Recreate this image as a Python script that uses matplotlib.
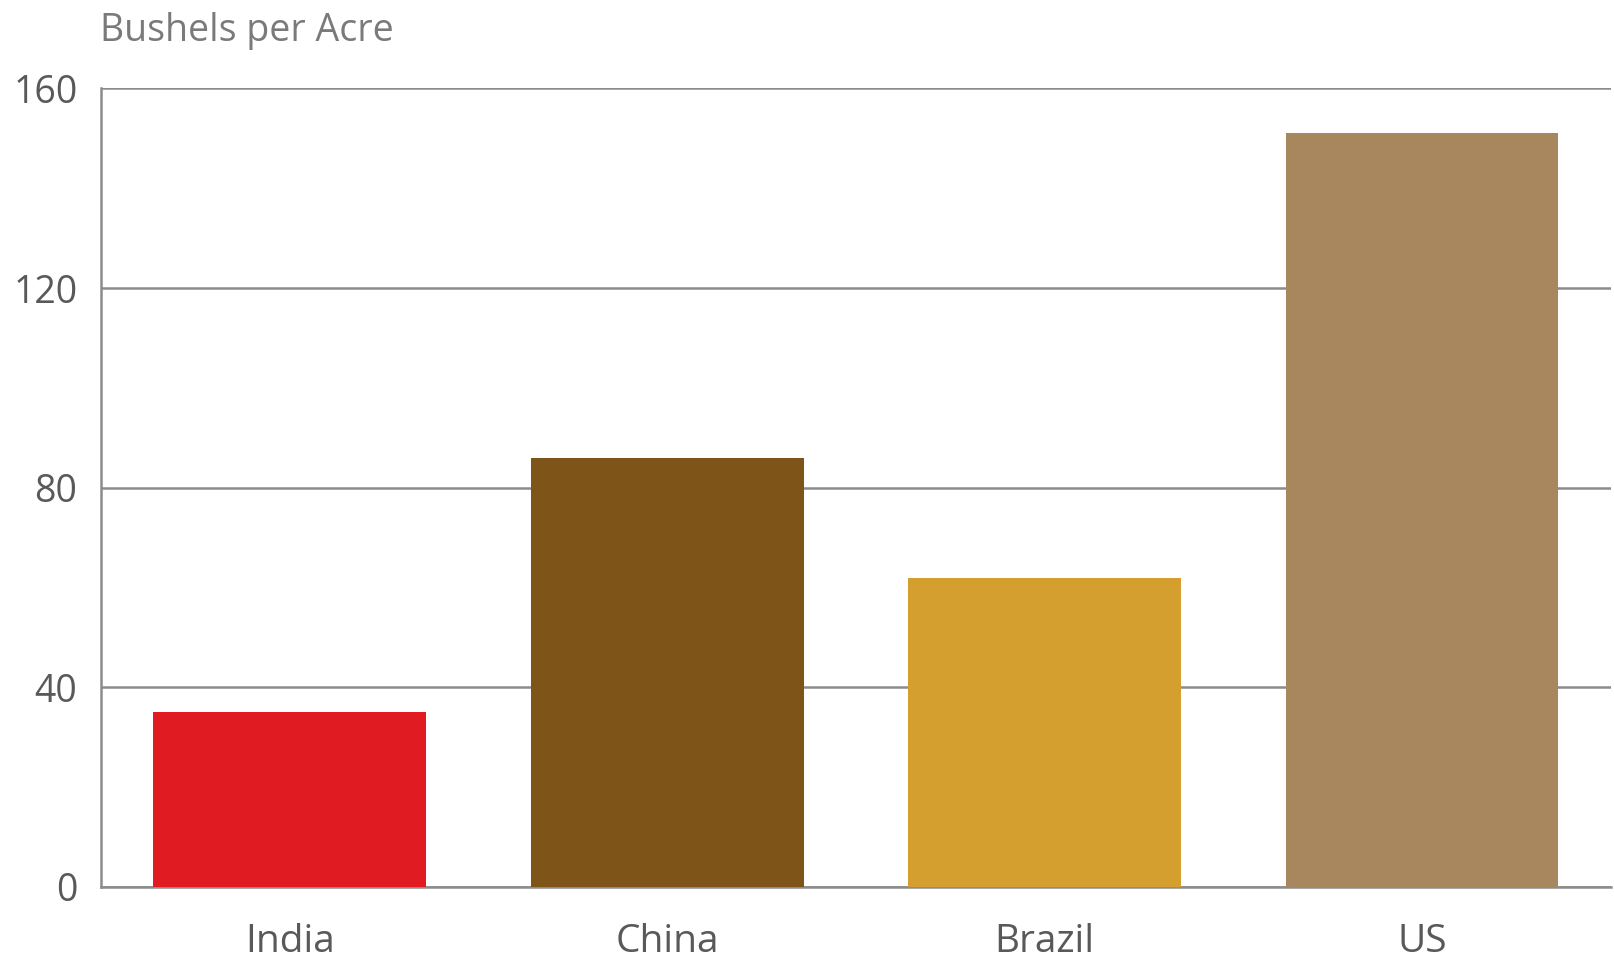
import matplotlib.pyplot as plt
import numpy as np

countries = ["India", "China", "Brazil", "US"]
yields = [35, 86, 62, 151]
colors = ["#E01B22", "#7E5419", "#D49F2E", "#A8875E"]
yticks = [0, 40, 80, 120, 160]

plt.rcParams["font.family"] = ["Open Sans", "DejaVu Sans"]

fig = plt.figure(figsize=(16.14, 9.66), dpi=100)
ax = fig.add_axes([0.0626, 0.0818, 0.9354, 0.8266])

x = np.arange(len(countries))
ax.bar(x, yields, width=0.723, color=colors, zorder=3)

ax.set_xlim(-0.5, 3.5)
ax.set_ylim(0, 160)
ax.set_yticks(yticks)
ax.set_xticks(x)
ax.set_xticklabels(countries)

ax.grid(axis="y", color="#8c8c8c", linewidth=1.8, zorder=1)
ax.set_axisbelow(True)
for side in ["top", "right"]:
    ax.spines[side].set_visible(False)
for side in ["left", "bottom"]:
    ax.spines[side].set_color("#8c8c8c")
    ax.spines[side].set_linewidth(1.8)

ax.tick_params(axis="both", length=0, labelcolor="#595959")
ax.tick_params(axis="y", labelsize=27, pad=17)
ax.tick_params(axis="x", labelsize=28, pad=26)

fig.text(0.062, 0.958, "Bushels per Acre", fontsize=27, color="#7a7a7a",
         ha="left", va="baseline")

fig.savefig("out.png", dpi=100, facecolor="white")
